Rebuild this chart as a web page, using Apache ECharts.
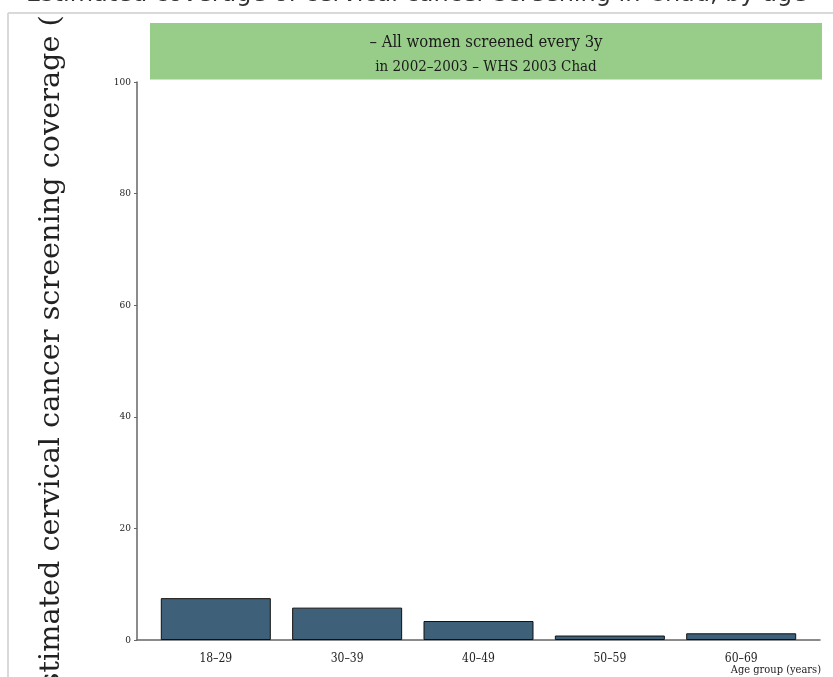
<!DOCTYPE html>
<html>
<head>
<meta charset="utf-8">
<script src="https://cdn.jsdelivr.net/npm/echarts@6/dist/echarts.min.js"></script>
<style>
html,body{margin:0;padding:0;background:#fff;}
#chart{width:833px;height:677px;}
</style>
</head>
<body>
<div id="chart"></div>
<script>
const categories = ['18–29', '30–39', '40–49', '50–59', '60–69'];
const coverage = [7.5, 5.8, 3.4, 0.8, 1.2];
const yMin = 0, yMax = 100, yStep = 20;
const titleText = 'Estimated coverage of cervical cancer screening in Chad, by age';
const boxLine1 = '– All women screened every 3y';
const boxLine2 = 'in 2002–2003 – WHS 2003 Chad';
const yName = 'Estimated cervical cancer screening coverage (%)';
const xName = 'Age group (years)';

const serifC = "'DejaVu Serif Condensed', 'DejaVu Serif', serif";
const chart = echarts.init(document.getElementById('chart'), null, {renderer: 'canvas'});

chart.setOption({
  animation: false,
  backgroundColor: '#ffffff',
  title: [
    {
      text: titleText, left: 'center', top: -22, z: 10,
      textStyle: {fontFamily: "'DejaVu Sans', sans-serif", fontWeight: 'normal', fontSize: 24, color: '#333'}
    },
    {
      text: xName, right: 12, top: 665, padding: 0,
      textStyle: {fontFamily: serifC, fontWeight: 'normal', fontSize: 11, color: '#222'}
    }
  ],
  graphic: [
    {type: 'rect', z: 3, shape: {x: 9, y: 0, width: 70, height: 12}, style: {fill: '#fff'}},
    {type: 'line', z: 4, shape: {x1: 8, y1: 13, x2: 833, y2: 13}, style: {stroke: '#d9d9d9', lineWidth: 2}},
    {type: 'line', z: 4, shape: {x1: 8, y1: 13, x2: 8, y2: 677}, style: {stroke: '#d9d9d9', lineWidth: 2}},
    {type: 'rect', z: 4, shape: {x: 150, y: 23, width: 672, height: 56}, style: {fill: '#97cd88'}},
    {type: 'line', z: 4, shape: {x1: 150, y1: 79.5, x2: 822, y2: 79.5}, style: {stroke: '#c9e6bf', lineWidth: 1}},
    {type: 'text', z: 5, x: 486, y: 43, style: {text: boxLine1, fontFamily: serifC, fontSize: 16.5, fill: '#1a1a1a', textAlign: 'center', textVerticalAlign: 'middle'}},
    {type: 'text', z: 5, x: 486, y: 67, style: {text: boxLine2, fontFamily: serifC, fontSize: 15, fill: '#1a1a1a', textAlign: 'center', textVerticalAlign: 'middle'}}
  ],
  grid: {left: 137, right: 13, top: 82, bottom: 37, containLabel: false, outerBoundsMode: 'none'},
  xAxis: {
    type: 'value', min: -0.6, max: 4.6,
    axisLine: {show: true, onZero: false, lineStyle: {color: '#666', width: 1.5}},
    axisTick: {show: false},
    splitLine: {show: false},
    axisLabel: {
      customValues: categories.map((c, i) => i),
      formatter: v => categories[Math.round(v)],
      fontFamily: serifC, fontSize: 12, color: '#222', margin: 13
    }
  },
  yAxis: {
    type: 'value', min: yMin, max: yMax, interval: yStep,
    name: yName, nameLocation: 'middle', nameGap: 71, nameRotate: 90,
    nameTextStyle: {fontFamily: "'DejaVu Serif', serif", fontSize: 28.7, color: '#222', padding: [0, 0, 0, 37]},
    axisLine: {show: true, onZero: false, lineStyle: {color: '#666', width: 1.5}},
    axisTick: {show: true, length: 3, lineStyle: {color: '#666', width: 1}},
    splitLine: {show: false},
    axisLabel: {fontFamily: serifC, fontSize: 10, color: '#222', margin: 6}
  },
  series: [{
    type: 'bar',
    barWidth: 110,
    data: categories.map((c, i) => [i, coverage[i]]),
    itemStyle: {color: '#3e6179', borderColor: '#111', borderWidth: 1}
  }]
});
</script>
</body>
</html>
